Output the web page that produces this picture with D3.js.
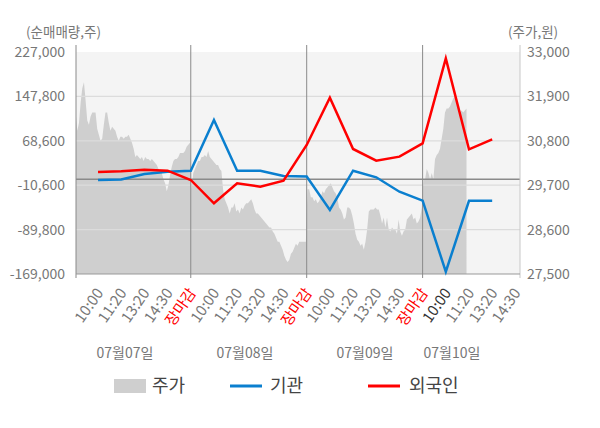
<!DOCTYPE html>
<html><head><meta charset="utf-8">
<script src="https://cdn.jsdelivr.net/npm/d3@7/dist/d3.min.js"></script>
<style>body{margin:0;background:#fff}svg{display:block;font-family:"Noto Sans CJK KR","Noto Sans",sans-serif}</style>
</head><body><svg id="c" width="600" height="428"></svg>
<script>
const dayLabels = ["07월07일","07월08일","07월09일","07월10일"];
const timeLabels = ["10:00","11:20","13:20","14:30","장마감",
                    "10:00","11:20","13:20","14:30","장마감",
                    "10:00","11:20","13:20","14:30","장마감",
                    "10:00","11:20","13:20","14:30"];
const leftTicks = [-169000,-89800,-10600,68600,147800,227000];
const rightTicks = [27500,28600,29700,30800,31900,33000];
const legendNames = ["주가","기관","외국인"];

// 순매매량 (shares) at each time label
const institution = [-1300,-400,9400,13500,15300,
                     105700,15300,15300,5800,5000,
                     -54800,15300,3500,-22200,-38200,
                     -164900,-38500,-38500];
const foreign = [12950,14150,17000,15300,-1300,
                 -42900,-7250,-13200,-2550,61100,
                 145500,54000,33100,40300,64100,
                 215700,53400,71300];

// intraday price (원), evenly sampled within each day
const day1Price = [31500,31050,31250,31750,32100,32250,31800,31300,31200,31400,
  31500,31500,31500,31100,30950,30800,30850,31200,31500,31500,
  31250,31050,31150,31100,31050,30900,30800,30900,30900,30850,
  30900,30900,30950,30850,30750,30600,30400,30450,30400,30350,
  30400,30300,30400,30350,30350,30300,30350,30300,30250,30200,
  30100,30050,30000,29850,29750,29550,29700,29950,30150,30300,
  30350,30350,30400,30500,30500,30500,30550,30650,30700,30750];
const day2Price = [29600,30000,30100,30200,30300,30300,30400,30400,30450,30400,
  30550,30400,30350,30300,30250,30200,30200,30100,30050,29600,
  29350,29250,29150,29000,29150,29150,29250,29050,29100,29000,
  29150,29100,29200,29250,29250,29300,29350,29250,29100,29000,
  29000,28950,28900,28850,28800,28750,28700,28650,28650,28550,
  28500,28400,28300,28300,28200,28100,27950,27850,27800,27850,
  28000,28050,28150,28250,28200,28300,28300,28300,28300,28300];
const day3Price = [29600,29600,29400,29400,29300,29350,29250,29300,29400,29550,
  29500,29600,29650,29700,29750,29650,29550,29500,29400,29150,
  29100,29000,28850,28900,29150,29150,29100,28950,28750,28500,
  28350,28300,28200,28250,28100,28300,28600,29050,29100,29100,
  29100,29150,29100,29100,28950,28750,28900,28650,28900,28600,
  28550,28650,28600,28600,28500,28850,28550,28450,28550,28600,
  28850,28900,28950,29000,28850,28900,28750,28800,28900,29150];
const day4Price = [29850,29850,30100,30000,29850,30000,29850,30350,30450,30500,
  30600,30850,31100,31500,31600,31600,31650,31750,31850,31900,
  31750,31650,31500,31550,31500,31550,31600];
const priceDays = [day1Price, day2Price, day3Price, day4Price];
const SAMPLES_PER_DAY = 70;

const svg = d3.select("#c");
const L = 76, R = 520, T = 52, B = 274;
const x = d3.scaleLinear().domain([-0.95, 18.2]).range([L, R]);
const yL = d3.scaleLinear().domain([-169000, 227000]).range([B, T]);
const yR = d3.scaleLinear().domain([27500, 33000]).range([B, T]);
const fmt = v => d3.format(",")(v).replace("\u2212", "-");

svg.append("rect").attr("width",600).attr("height",428).attr("fill","#fff");
svg.append("rect").attr("x",L).attr("y",T).attr("width",R-L).attr("height",B-T).attr("fill","#f4f4f4");

svg.append("defs").append("clipPath").attr("id","clip")
  .append("rect").attr("x",L).attr("y",T-10).attr("width",R-L).attr("height",B-T+10);

// price area
const pricePts = [];
priceDays.forEach((arr, d) => arr.forEach((p, j) => {
  pricePts.push({slot: 5*d - 1 + (j + 0.5) * 5 / SAMPLES_PER_DAY, p});
}));
svg.append("path").datum(pricePts)
  .attr("clip-path","url(#clip)")
  .attr("fill","#cfcfcf")
  .attr("d", d3.area().x(d => x(d.slot)).y0(yR(27500)).y1(d => yR(d.p)));

// grid
svg.append("g").selectAll("line").data(leftTicks.slice(1, -1)).join("line")
  .attr("x1",L).attr("x2",R).attr("y1",d=>yL(d)).attr("y2",d=>yL(d))
  .attr("stroke","#dcdcdc").attr("stroke-width",1.2);
// zero line
svg.append("line").attr("x1",L).attr("x2",R).attr("y1",yL(0)).attr("y2",yL(0))
  .attr("stroke","#8a8a8a").attr("stroke-width",1.3);

// axes lines
svg.append("line").attr("x1",L).attr("x2",L).attr("y1",45).attr("y2",B+4).attr("stroke","#8a8a8a");
svg.append("line").attr("x1",R).attr("x2",R).attr("y1",45).attr("y2",B+4).attr("stroke","#c8c8c8");
svg.append("line").attr("x1",L).attr("x2",R).attr("y1",B).attr("y2",B).attr("stroke","#999");
// day dividers
svg.append("g").selectAll("line").data([4,9,14]).join("line")
  .attr("x1",d=>x(d)).attr("x2",d=>x(d)).attr("y1",45).attr("y2",B+4)
  .attr("stroke","#8a8a8a");

// lines
const line = d3.line().x((d,i)=>x(i)).y(d=>yL(d));
svg.append("path").datum(institution).attr("fill","none").attr("stroke","#0a7fcf")
  .attr("stroke-width",2.5).attr("stroke-linejoin","miter").attr("d",line);
svg.append("path").datum(foreign).attr("fill","none").attr("stroke","#ff0000")
  .attr("stroke-width",2.5).attr("stroke-linejoin","miter").attr("d",line);

// left ticks
svg.append("g").selectAll("text").data(leftTicks).join("text")
  .attr("x",65).attr("y",d=>yL(d)+5).attr("text-anchor","end")
  .attr("font-size",14).attr("fill","#777").text(fmt);
svg.append("g").selectAll("text").data(rightTicks).join("text")
  .attr("x",527).attr("y",d=>yR(d)+5).attr("text-anchor","start")
  .attr("font-size",14).attr("fill","#777").text(fmt);
svg.append("text").attr("x",101).attr("y",37).attr("text-anchor","end")
  .attr("font-size",13.5).attr("fill","#777").text("(순매매량,주)");
svg.append("text").attr("x",508).attr("y",37).attr("text-anchor","start")
  .attr("font-size",13.5).attr("fill","#777").text("(주가,원)");

// x labels
svg.append("g").selectAll("text").data(timeLabels).join("text")
  .attr("transform",(d,i)=>`translate(${x(i)+6},293) rotate(-55)`)
  .attr("text-anchor","end").attr("font-size",15)
  .attr("fill",(d,i)=> d==="장마감" ? "#ff0000" : (i===15 ? "#333" : "#777"))
  .text(d=>d);

const dayX = [125, 245, 365, 452];
svg.append("g").selectAll("text").data(dayLabels).join("text")
  .attr("x",(d,i)=>dayX[i]).attr("y",358).attr("text-anchor","middle")
  .attr("font-size",14).attr("fill","#777").text(d=>d);

// legend
const lg = svg.append("g");
lg.append("rect").attr("x",114).attr("y",379).attr("width",32).attr("height",14).attr("fill","#cfcfcf");
lg.append("text").attr("x",152).attr("y",392).attr("font-size",18).attr("fill","#444").text(legendNames[0]);
lg.append("line").attr("x1",230).attr("x2",262).attr("y1",386).attr("y2",386).attr("stroke","#0a7fcf").attr("stroke-width",3);
lg.append("text").attr("x",270).attr("y",392).attr("font-size",18).attr("fill","#444").text(legendNames[1]);
lg.append("line").attr("x1",368).attr("x2",400).attr("y1",386).attr("y2",386).attr("stroke","#ff0000").attr("stroke-width",3);
lg.append("text").attr("x",409).attr("y",392).attr("font-size",18).attr("fill","#444").text(legendNames[2]);
</script></body></html>
